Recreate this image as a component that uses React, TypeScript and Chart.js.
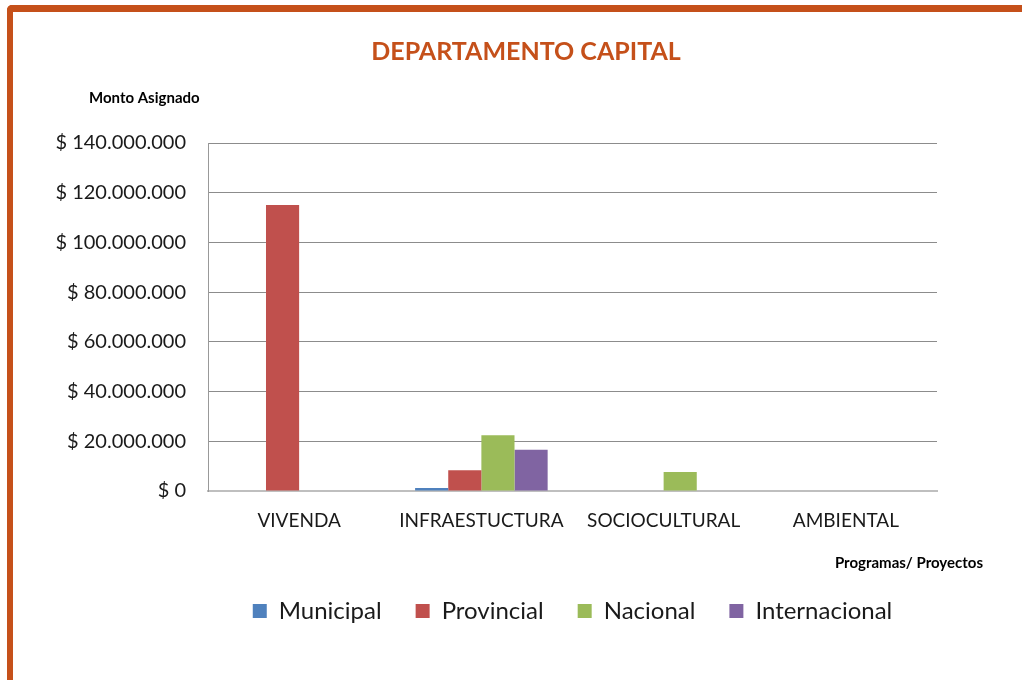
import React, { useEffect, useRef } from "react";
import { Chart, registerables } from "chart.js";

Chart.register(...registerables);

const categories = ["VIVENDA", "INFRAESTUCTURA", "SOCIOCULTURAL", "AMBIENTAL"];
const municipal = [0, 1200000, 0, 0];
const provincial = [115100000, 8300000, 0, 0];
const nacional = [0, 22400000, 7600000, 0];
const internacional = [0, 16600000, 0, 0];
const seriesNames = ["Municipal", "Provincial", "Nacional", "Internacional"];
const seriesColors = ["#4F81BD", "#C0504D", "#9BBB59", "#8064A2"];
const titleText = "DEPARTAMENTO CAPITAL";
const yTitle = "Monto Asignado";
const xTitle = "Programas/ Proyectos";
const yMax = 140000000;
const yStep = 20000000;

const ACCENT = "#C5501A";
const FONT = "Lato, 'Open Sans', sans-serif";

function fmt(v: number): string {
  const s = Math.round(v).toString().replace(/\B(?=(\d{3})+(?!\d))/g, ".");
  return "$ " + s;
}

const textPlugin = {
  id: "texts",
  afterDraw(chart: any) {
    const ctx = chart.ctx;
    ctx.save();
    ctx.fillStyle = ACCENT;
    ctx.font = `bold 25px ${FONT}`;
    ctx.textAlign = "center";
    ctx.textBaseline = "middle";
    ctx.fillText(titleText, 526, 52);
    ctx.fillStyle = "#000";
    ctx.font = `bold 15px ${FONT}`;
    ctx.textAlign = "left";
    ctx.fillText(yTitle, 89, 98);
    ctx.textAlign = "right";
    ctx.fillText(xTitle, 983, 563);
    ctx.restore();
  },
};

export default function App() {
  const ref = useRef<HTMLCanvasElement | null>(null);
  useEffect(() => {
    if (!ref.current) return;
    const data = [municipal, provincial, nacional, internacional];
    const chart = new Chart(ref.current, {
      type: "bar",
      data: {
        labels: categories,
        datasets: seriesNames.map((n, i) => ({
          label: n,
          data: data[i],
          backgroundColor: seriesColors[i],
          borderWidth: 0,
          categoryPercentage: 4 / 5.5,
          barPercentage: 1,
        })),
      },
      options: {
        animation: false,
        responsive: false,
        maintainAspectRatio: false,
        layout: { padding: { top: 143, left: 0, right: 85, bottom: 47 } },
        plugins: {
          title: { display: false },
          tooltip: { enabled: false },
          legend: {
            position: "bottom",
            fullSize: false,
            labels: {
              boxWidth: 14,
              boxHeight: 14,
              padding: 34,
              color: "#1a1a1a",
              font: { family: FONT, size: 24 },
            },
          },
        },
        scales: {
          x: {
            grid: { display: false, drawTicks: false },
            border: { display: true, color: "#BFBFBF", width: 2 },
            ticks: {
              color: "#1a1a1a",
              padding: 18,
              font: { family: FONT, size: 19 },
            },
            afterFit: (s: any) => {
              s.height = 74;
            },
          },
          y: {
            min: 0,
            max: yMax,
            grid: { color: "#8C8C8C", lineWidth: 1, drawTicks: false },
            border: { display: true, color: "#999999", width: 1 },
            ticks: {
              stepSize: yStep,
              color: "#1a1a1a",
              padding: 22,
              font: { family: FONT, size: 20 },
              callback: (v: any) => fmt(Number(v)),
            },
            afterFit: (s: any) => {
              s.width = 208;
            },
          },
        },
      },
      plugins: [textPlugin],
    });
    return () => chart.destroy();
  }, []);

  return (
    <div style={{ position: "absolute", left: 0, top: 0, width: 1022, height: 680, background: "#fff", overflow: "hidden" }}>
      <div style={{ position: "absolute", left: 7, top: 5, width: 1030, height: 700, borderTop: `7px solid ${ACCENT}`, borderLeft: `6px solid ${ACCENT}`, borderTopLeftRadius: 5, boxSizing: "border-box" }} />
      <canvas ref={ref} width={1022} height={680} style={{ position: "absolute", left: 0, top: 0 }} />
    </div>
  );
}
